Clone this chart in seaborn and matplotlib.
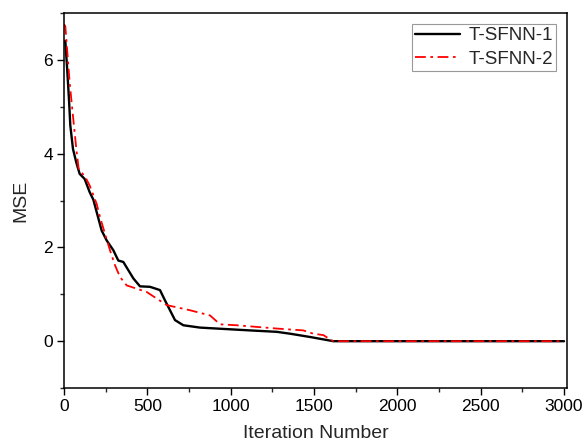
import numpy as np
import pandas as pd
import matplotlib
matplotlib.use("Agg")
import matplotlib.pyplot as plt
from matplotlib.ticker import MultipleLocator
import seaborn as sns

# valores
iter_1 = [0, 8, 18, 30, 38, 54, 74, 94, 124, 154, 176, 226, 256, 296, 326, 356, 416,
          456, 516, 576, 606, 636, 666, 716, 816, 1116, 1276, 1356, 1476, 1616, 3000]
mse_1 = [6.4, 6.4, 5.87, 5.16, 4.6, 4.1, 3.81, 3.57, 3.46, 3.18, 3.02, 2.36, 2.15, 1.94, 1.72, 1.69, 1.34,
         1.17, 1.16, 1.09, 0.87, 0.66, 0.45, 0.34, 0.29, 0.23, 0.2, 0.16, 0.09, 0.0, 0.0]

iter_2 = [0, 8, 34, 54, 74, 88, 106, 134, 154, 196, 216, 246, 276, 306, 336, 376,
          496, 556, 616, 756, 876, 936, 1036, 1276, 1436, 1496, 1556, 1596, 1616, 3000]
mse_2 = [6.76, 6.72, 5.52, 4.8, 4.1, 3.68, 3.6, 3.46, 3.32, 2.93, 2.65, 2.29, 1.94, 1.62, 1.37, 1.19,
         1.05, 0.91, 0.77, 0.66, 0.55, 0.36, 0.34, 0.27, 0.23, 0.16, 0.13, 0.04, 0.0, 0.0]

df = pd.concat([
    pd.DataFrame({"Iteration": iter_1, "MSE": mse_1, "Modelo": "T-SFNN-1"}),
    pd.DataFrame({"Iteration": iter_2, "MSE": mse_2, "Modelo": "T-SFNN-2"}),
])

sns.set_style("ticks")
plt.rcParams["font.family"] = ["Liberation Sans", "DejaVu Sans"]

fig = plt.figure(figsize=(5.87, 4.41), dpi=100)
ax = fig.add_axes([0.109, 0.120, 0.857, 0.8505])

sns.lineplot(data=df, x="Iteration", y="MSE", hue="Modelo", style="Modelo",
             palette={"T-SFNN-1": "black", "T-SFNN-2": "red"},
             dashes={"T-SFNN-1": "", "T-SFNN-2": (6, 2.5, 1.5, 2.5)},
             ax=ax, estimator=None, sort=False)
for ln, lw in zip(ax.lines, [1.7, 1.3]):
    ln.set_linewidth(lw)

ax.set_xlim(0, 3018)
ax.set_ylim(-1, 7)
ax.xaxis.set_major_locator(MultipleLocator(500))
ax.xaxis.set_minor_locator(MultipleLocator(250))
ax.yaxis.set_major_locator(MultipleLocator(2))
ax.yaxis.set_minor_locator(MultipleLocator(1))
ax.tick_params(which="major", length=5, width=1, labelsize=12.5, colors="black", pad=3)
ax.tick_params(which="minor", length=3, width=1)
for s in ax.spines.values():
    s.set_linewidth(1.1)
    s.set_color("black")

ax.set_xlabel("Iteration Number", fontsize=14, labelpad=8)
ax.set_ylabel("MSE", fontsize=14, labelpad=10)

leg = ax.legend(loc="upper right", fontsize=13.5, frameon=True, fancybox=False,
                handlelength=2.4, borderpad=0.15, labelspacing=0.35,
                handletextpad=0.45, borderaxespad=0.6)
leg.get_frame().set_edgecolor("gray")
leg.get_frame().set_linewidth(0.8)
for h, lw in zip(leg.get_lines(), [1.7, 1.3]):
    h.set_linewidth(lw)

fig.savefig("out.png", dpi=100)
